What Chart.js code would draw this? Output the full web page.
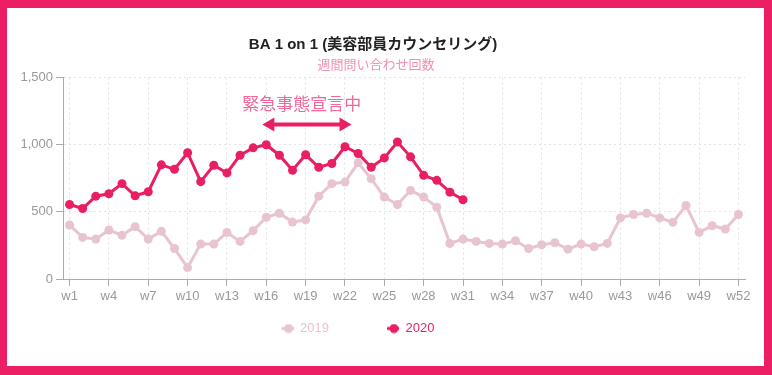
<!DOCTYPE html>
<html>
<head>
<meta charset="utf-8">
<script src="https://cdn.jsdelivr.net/npm/chart.js@4"></script>
<style>
  html,body{margin:0;padding:0;background:#ec1f64;width:772px;height:375px;overflow:hidden}
  #wrap{position:absolute;left:7px;top:8px;width:757px;height:358px;background:#fff}
</style>
</head>
<body>
<div id="wrap"><canvas id="c" width="757" height="358"></canvas></div>
<script>
// ---- data ----
const weeks = Array.from({length:52}, (_, i) => 'w' + (i + 1));
const seriesNames = ['2019', '2020'];
const data2019 = [402,310,297,365,325,390,297,355,227,85,
                  260,260,347,280,360,460,490,424,440,617,
                  710,722,865,747,610,555,660,610,535,265,
                  297,280,265,260,285,227,255,270,222,260,
                  240,265,455,480,490,455,422,547,347,397,372,480];
const data2020 = [555,525,617,635,710,620,650,850,817,940,
                  725,847,790,922,977,1000,922,810,925,832,
                  860,985,935,832,902,1020,910,772,735,647,590];
const yTicks = [0, 500, 1000, 1500];
const titleText = 'BA 1 on 1 (美容部員カウンセリング)';
const subtitleText = '週間問い合わせ回数';
// 緊急事態宣言 annotation (week index range, y value)
const emergencyText = '緊急事態宣言中';
const emergencyFrom = 14.7, emergencyTo = 21.5, emergencyTextAt = 17.7;
const emergencyArrowY = 1150, emergencyTextY = 1310;

const C19 = '#e8c4d1', C20 = '#e91e63';
const colors = [C19, C20];

Chart.defaults.font.family = '"Liberation Sans", Arial, "Noto Sans CJK JP", sans-serif';

// legend marker: line + dot, drawn at right end of a wide box
function marker(color) {
  const c = document.createElement('canvas');
  c.width = 60; c.height = 10;
  const g = c.getContext('2d');
  g.strokeStyle = color; g.lineWidth = 3;
  g.beginPath(); g.moveTo(48, 5); g.lineTo(62, 5); g.stroke();
  g.fillStyle = color;
  g.beginPath(); g.arc(55, 5, 4.5, 0, Math.PI * 2); g.fill();
  return c;
}
const markers = colors.map(marker);

const emergencyPlugin = {
  id: 'emergency',
  afterDatasetsDraw(chart) {
    const {ctx, scales:{x, y}} = chart;
    const x1 = x.getPixelForValue(emergencyFrom), x2 = x.getPixelForValue(emergencyTo);
    const ay = y.getPixelForValue(emergencyArrowY);
    ctx.save();
    ctx.strokeStyle = C20; ctx.fillStyle = C20; ctx.lineWidth = 4;
    ctx.beginPath(); ctx.moveTo(x1 + 8, ay); ctx.lineTo(x2 - 8, ay); ctx.stroke();
    ctx.beginPath(); ctx.moveTo(x1, ay); ctx.lineTo(x1 + 12, ay - 7); ctx.lineTo(x1 + 12, ay + 7); ctx.closePath(); ctx.fill();
    ctx.beginPath(); ctx.moveTo(x2, ay); ctx.lineTo(x2 - 12, ay - 7); ctx.lineTo(x2 - 12, ay + 7); ctx.closePath(); ctx.fill();
    ctx.fillStyle = '#f0689a';
    ctx.font = '17px "Noto Sans CJK JP", sans-serif';
    ctx.textAlign = 'center'; ctx.textBaseline = 'middle';
    ctx.fillText(emergencyText, x.getPixelForValue(emergencyTextAt), y.getPixelForValue(emergencyTextY));
    ctx.restore();
  }
};

// nudge legend/title horizontally to sit where the original has them
const shiftPlugin = {
  id: 'shift',
  afterLayout(chart) {
    chart.legend.left -= 42; chart.legend.right -= 42;
    if (chart.titleBlock) { chart.titleBlock.left -= 3; chart.titleBlock.right -= 3; }
  }
};

new Chart(document.getElementById('c'), {
  type: 'line',
  data: {
    labels: weeks,
    datasets: [
      { label: seriesNames[0], data: data2019, borderColor: C19, backgroundColor: C19,
        borderWidth: 3, pointRadius: 4.5, pointBorderWidth: 0, tension: 0, order: 1 },
      { label: seriesNames[1], data: data2020, borderColor: C20, backgroundColor: C20,
        borderWidth: 3, pointRadius: 4.5, pointBorderWidth: 0, tension: 0, order: 0 },
    ]
  },
  options: {
    responsive: false,
    animation: false,
    layout: { padding: { left: 0, right: 19, top: 0, bottom: 21 } },
    plugins: {
      title: { display: true, text: titleText, color: '#222', font: { size: 15, weight: 'bold' },
               padding: { top: 28, bottom: 0 } },
      subtitle: { display: true, text: subtitleText, color: '#f290b5', font: { size: 13 },
                  padding: { top: 4, bottom: 4 } },
      legend: {
        position: 'bottom',
        labels: {
          usePointStyle: true, pointStyleWidth: 60, padding: 10,
          font: { size: 13 },
          generateLabels: () => seriesNames.map((n, i) => ({
            text: n, fontColor: colors[i], pointStyle: markers[i], datasetIndex: i,
            fillStyle: colors[i], strokeStyle: colors[i], lineWidth: 0, hidden: false
          }))
        }
      },
      tooltip: { enabled: false }
    },
    scales: {
      x: {
        offset: true,
        grid: { color: '#e2e2e2', tickColor: '#aaa', tickLength: 7 },
        border: { color: '#aaa', width: 1, dash: [2, 3] },
        ticks: {
          color: '#999', font: { size: 13 }, padding: 3, autoSkip: false, maxRotation: 0,
          callback(v, i) { return i % 3 === 0 ? this.getLabelForValue(v) : null; }
        },
        afterFit(s) { s.height = 33; }
      },
      y: {
        min: 0, max: 1500,
        afterBuildTicks(s) { s.ticks = yTicks.map(v => ({ value: v })); },
        grid: { color: '#e2e2e2', tickColor: '#aaa', tickLength: 7 },
        border: { color: '#aaa', width: 1, dash: [2, 3] },
        ticks: { color: '#999', font: { size: 13 }, padding: 3 },
        afterFit(s) { s.width = 56; }
      }
    }
  },
  plugins: [emergencyPlugin, shiftPlugin]
});
</script>
</body>
</html>
